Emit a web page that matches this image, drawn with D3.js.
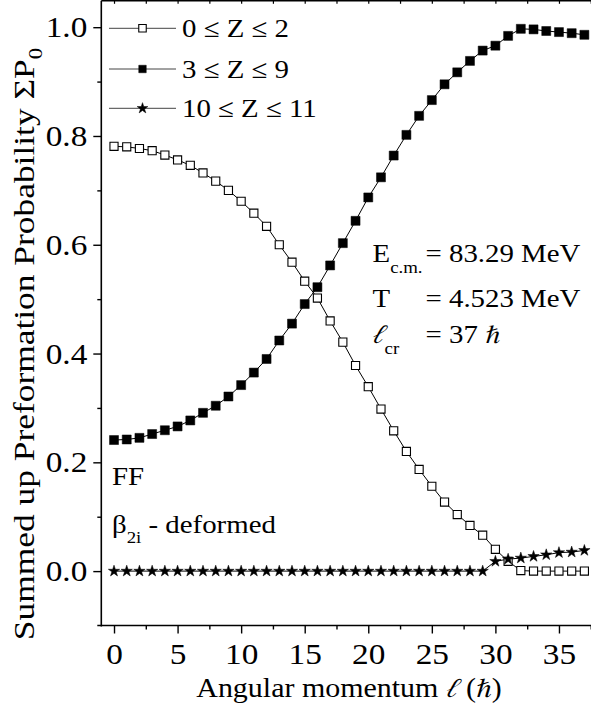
<!DOCTYPE html>
<html>
<head>
<meta charset="utf-8">
<script src="https://cdn.jsdelivr.net/npm/d3@7"></script>
<style>
  html, body { margin: 0; padding: 0; background: #fff; }
  svg { display: block; }
</style>
</head>
<body>
<svg id="chart" width="591" height="708" font-family="Liberation Serif"></svg>
<script>
// Angular momentum values (in units of hbar)
const ell = [0,1,2,3,4,5,6,7,8,9,10,11,12,13,14,15,16,17,18,19,
             20,21,22,23,24,25,26,27,28,29,30,31,32,33,34,35,36,37];

// Summed preformation probability for each fragment group
const lowZ = [0.781,0.780,0.777,0.773,0.765,0.756,0.746,0.732,0.717,0.700,
              0.680,0.658,0.634,0.600,0.568,0.533,0.502,0.460,0.421,0.378,
              0.339,0.298,0.258,0.220,0.187,0.156,0.127,0.104,0.084,0.066,
              0.040,0.018,0.001,0.000,0.000,0.000,0.000,0.000];
const midZ = [0.241,0.242,0.245,0.252,0.259,0.266,0.277,0.291,0.304,0.321,
              0.342,0.365,0.390,0.424,0.455,0.491,0.522,0.562,0.603,0.644,
              0.687,0.724,0.764,0.802,0.837,0.866,0.895,0.917,0.938,0.957,
              0.966,0.984,0.997,0.996,0.993,0.991,0.989,0.986];
const highZ = [0,0,0,0,0,0,0,0,0,0,
               0,0,0,0,0,0,0,0,0,0,
               0,0,0,0,0,0,0,0,0,0,
               0.018,0.022,0.024,0.027,0.030,0.034,0.035,0.038];

const seriesNames = ["0 \u2264 Z \u2264 2", "3 \u2264 Z \u2264 9", "10 \u2264 Z \u2264 11"];
const xTicks = [0,5,10,15,20,25,30,35];
const yTicks = [0.0,0.2,0.4,0.6,0.8,1.0];

const SERIF = "Liberation Serif";
const SCRIPT = "FreeSerif";   // cursive ell and italic h-bar
const SX = 1.11;              // horizontal widening of the serif face
const FS_TICK = 30, FS = 26, FS_SUB = 17;

const svg = d3.select("#chart");

const x = d3.scaleLinear().domain([-1, 38]).range([101.3, 597.1]);
const y = d3.scaleLinear().domain([-0.1, 1.05]).range([625.5, 0]);

// Text placed at (px,py) and widened along its baseline
function label(parent, px, py, size, extra, sx) {
  return parent.append("text")
    .attr("transform", `translate(${px},${py})${extra || ""} scale(${sx || SX},1)`)
    .attr("font-family", SERIF).attr("font-size", size).attr("fill", "#000");
}

// Frame
const frameL = x(-1), frameB = y(-0.1), frameT = 0.8, frameR = x(38);
svg.append("line").attr("x1", frameL).attr("x2", frameL).attr("y1", frameT).attr("y2", frameB + 1)
  .attr("stroke", "#000").attr("stroke-width", 1.6);
svg.append("line").attr("x1", frameL - 4).attr("x2", frameR).attr("y1", frameB).attr("y2", frameB)
  .attr("stroke", "#000").attr("stroke-width", 1.6);
svg.append("line").attr("x1", frameL).attr("x2", frameR).attr("y1", frameT).attr("y2", frameT)
  .attr("stroke", "#000").attr("stroke-width", 1.4);

// Bottom axis
const xAxis = d3.axisBottom(x).tickValues(xTicks).tickSize(8).tickFormat(d3.format("d")).tickPadding(9);
const gx = svg.append("g").attr("transform", `translate(0,${frameB})`).call(xAxis)
  .attr("font-family", SERIF).attr("font-size", FS_TICK);
gx.select(".domain").remove();
gx.selectAll(".tick line").attr("stroke", "#000").attr("stroke-width", 1.4);
gx.selectAll(".tick text").attr("fill", "#000").attr("transform", `scale(${SX},1)`);

const xMinor = d3.axisBottom(x).tickValues(d3.range(2.5, 38, 5)).tickSize(4).tickFormat("");
const gxm = svg.append("g").attr("transform", `translate(0,${frameB})`).call(xMinor);
gxm.select(".domain").remove();
gxm.selectAll(".tick line").attr("stroke", "#000").attr("stroke-width", 1.4);

// Top ticks (inward)
const xTop = d3.axisBottom(x).tickValues(d3.range(0, 38, 2.5)).tickSize(3).tickFormat("");
const gxt = svg.append("g").attr("transform", `translate(0,${frameT})`).call(xTop);
gxt.select(".domain").remove();
gxt.selectAll(".tick line").attr("stroke", "#000").attr("stroke-width", 1.2);

// Left axis
const yAxis = d3.axisLeft(y).tickValues(yTicks).tickSize(8).tickFormat(d3.format(".1f")).tickPadding(6);
const gy = svg.append("g").attr("transform", `translate(${frameL},0)`).call(yAxis)
  .attr("font-family", SERIF).attr("font-size", FS_TICK);
gy.select(".domain").remove();
gy.selectAll(".tick line").attr("stroke", "#000").attr("stroke-width", 1.4);
gy.selectAll(".tick text").attr("fill", "#000")
  .attr("x", -14 / SX).attr("transform", `scale(${SX},1)`);

const yMinor = d3.axisLeft(y).tickValues([0.1,0.3,0.5,0.7,0.9]).tickSize(4).tickFormat("");
const gym = svg.append("g").attr("transform", `translate(${frameL},0)`).call(yMinor);
gym.select(".domain").remove();
gym.selectAll(".tick line").attr("stroke", "#000").attr("stroke-width", 1.4);

// Axis titles
const xt = label(svg, 349, 697, 27).attr("text-anchor", "middle");
xt.append("tspan").text("Angular momentum ");
xt.append("tspan").attr("font-family", SCRIPT).attr("font-style", "italic").text("\u2113");
xt.append("tspan").text(" (");
xt.append("tspan").attr("font-family", SCRIPT).attr("font-style", "italic").text("\u210F");
xt.append("tspan").text(")");

const yt = label(svg, 33.5, 344, 29.5, " rotate(-90)", 1.2).attr("text-anchor", "middle");
yt.append("tspan").text("Summed up Preformation Probability \u03A3P");
yt.append("tspan").attr("dy", 8).attr("font-size", 19).text("0");

// Series
const series = [
  { name: seriesNames[0], values: lowZ, symbol: d3.symbolSquare, size: 66, fill: "#fff" },
  { name: seriesNames[1], values: midZ, symbol: d3.symbolSquare, size: 81, fill: "#000" },
  { name: seriesNames[2], values: highZ, symbol: d3.symbolStar, size: 40, fill: "#000" }
];

const line = d3.line().x((d, i) => x(ell[i])).y(d => y(d));

series.forEach(s => {
  svg.append("path").attr("d", line(s.values)).attr("fill", "none")
    .attr("stroke", "#000").attr("stroke-width", 1);
});
series.forEach(s => {
  svg.append("g").selectAll("path").data(s.values).join("path")
    .attr("transform", (d, i) => `translate(${x(ell[i])},${y(d)})`)
    .attr("d", d3.symbol().type(s.symbol).size(s.size))
    .attr("fill", s.fill).attr("stroke", "#000").attr("stroke-width", s.fill === "#fff" ? 1.1 : 0.5);
});

// Legend
const legendY = [28.3, 69, 108.3];
series.forEach((s, i) => {
  const g = svg.append("g").attr("transform", `translate(0,${legendY[i]})`);
  g.append("line").attr("x1", 109).attr("x2", 176).attr("y1", 0).attr("y2", 0)
    .attr("stroke", "#444").attr("stroke-width", 1);
  g.append("path").attr("transform", "translate(142.5,0)")
    .attr("d", d3.symbol().type(s.symbol).size(s.symbol === d3.symbolStar ? 36 : 56))
    .attr("fill", s.fill).attr("stroke", "#000").attr("stroke-width", s.fill === "#fff" ? 1.1 : 0.5);
  label(g, 182, 0, FS).attr("dy", "0.35em").text(s.name);
});

// Reaction parameters
const info = [
  { sym: "E", sub: "c.m.", val: "= 83.29 MeV" },
  { sym: "T", sub: "", val: "= 4.523 MeV" },
  { sym: "\u2113", sub: "cr", val: "= 37 " }
];
const infoBase = [261.7, 306.7, 343];
info.forEach((r, i) => {
  const t = label(svg, 372.5, infoBase[i], FS);
  const s0 = t.append("tspan").text(r.sym);
  if (r.sym === "\u2113") s0.attr("font-family", SCRIPT).attr("font-style", "italic");
  if (r.sub) t.append("tspan").attr("dy", 11).attr("font-size", FS_SUB).text(r.sub);
  const v = label(svg, 425.5, infoBase[i], FS);
  v.append("tspan").text(r.val);
  if (r.sym === "\u2113") v.append("tspan").attr("font-family", SCRIPT).attr("font-style", "italic").text("\u210F");
});

// Model labels
label(svg, 112, 485, FS).text("FF");
const beta = label(svg, 112, 533, FS);
beta.append("tspan").text("\u03B2");
beta.append("tspan").attr("dy", 10).attr("font-size", FS_SUB).text("2i");
beta.append("tspan").attr("dy", -10).text(" - deformed");
</script>
</body>
</html>
